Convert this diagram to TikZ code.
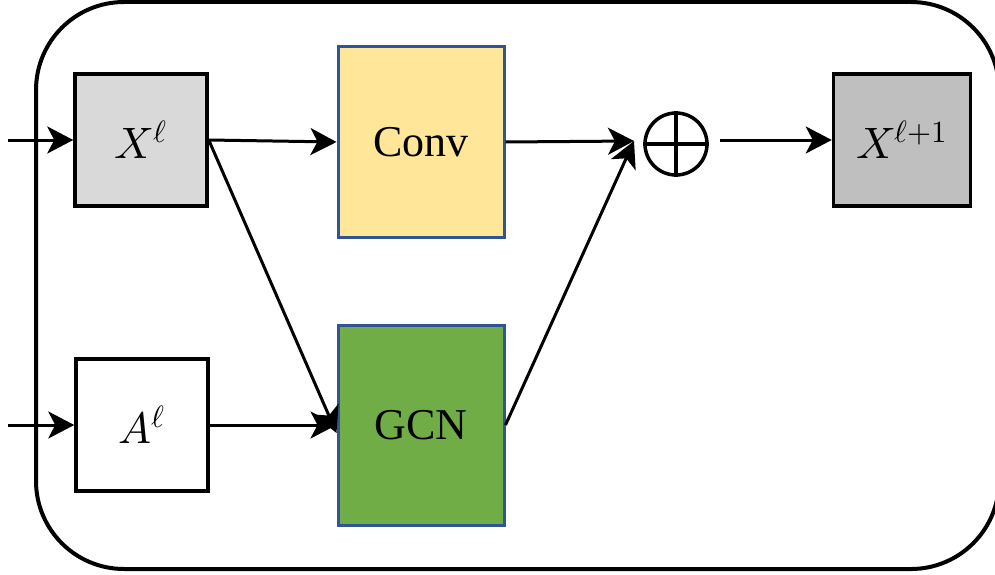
\documentclass[tikz,border=0pt]{standalone}
\usepackage{fontspec}
\usepackage{unicode-math}
\setmainfont{Liberation Serif}
\setmathfont{Latin Modern Math}
\usetikzlibrary{arrows.meta}
\definecolor{xgray}{HTML}{D9D9D9}
\definecolor{xgraydark}{HTML}{BFBFBF}
\definecolor{convyellow}{HTML}{FFE699}
\definecolor{gcngreen}{HTML}{70AD47}
\definecolor{edgeblue}{HTML}{2F5597}
\tikzset{
  featbox/.style={draw=black, line width=3.5pt, minimum width=132pt, minimum height=132pt, inner sep=0pt, font=\fontsize{44}{50}\selectfont},
  opbox/.style={draw=edgeblue, line width=3pt, minimum width=166pt, inner sep=0pt, font=\fontsize{44}{50}\selectfont},
  flow/.style={line width=3pt, -{Stealth[length=26pt,width=27pt,inset=7pt]}},
}
\begin{document}
\begin{tikzpicture}[x=1pt,y=-1pt]
  \useasboundingbox (0,0) rectangle (995,575);
  % enclosing block
  \draw[line width=4pt, rounded corners=88pt] (36,2) rectangle (999,569);
  % inputs and output
  \node[featbox, fill=xgray] (x) at (141,140) {$X^{\ell}$};
  \node[featbox, fill=white] (a) at (142,425) {$A^{\ell}$};
  \node[featbox, fill=xgraydark, minimum width=137pt] (xo) at (902,140) {$X^{\ell+1}$};
  % operators
  \node[opbox, fill=convyellow, minimum height=190pt] (conv) at (421,142) {Conv};
  \node[opbox, fill=gcngreen, minimum height=200pt] (gcn) at (421,425) {GCN};
  \node[circle, draw, line width=3.5pt, minimum size=62pt, inner sep=0pt] (sum) at (676,144) {};
  \draw[line width=3.5pt] (sum.north) -- (sum.south) (sum.west) -- (sum.east);
  % loose ends
  \coordinate (inx) at (8,140);
  \coordinate (ina) at (8,425);
  \coordinate (sumin) at (634,141);
  \coordinate (sumout) at (720,140);
  % connectors
  \draw[flow] (inx) -- (x.west);
  \draw[flow] (ina) -- (a.west);
  \draw[flow] (x.east) -- (conv.west);
  \draw[flow] (x.east) -- ([yshift=-8pt]gcn.west);
  \draw[flow] (a.east) -- (gcn.west);
  \draw[flow] (conv.east) -- (sumin);
  \draw[flow] (gcn.east) -- (sumin);
  \draw[flow] (sumout) -- (xo.west);
\end{tikzpicture}
\end{document}
